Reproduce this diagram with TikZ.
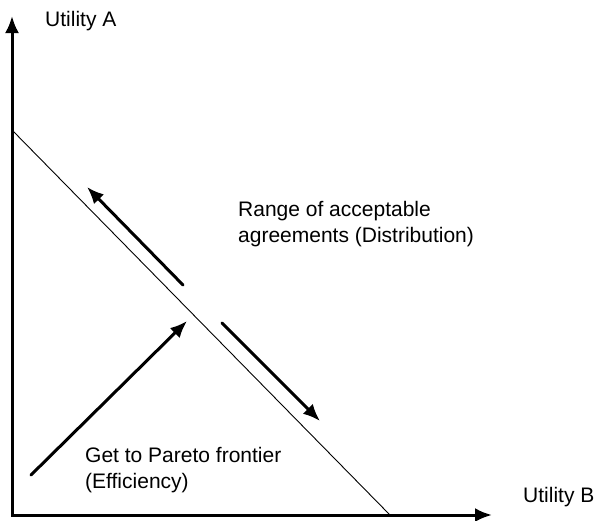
\documentclass[tikz,border=0pt]{standalone}
\usepackage{fontspec}
\setmainfont{Liberation Sans}
\usetikzlibrary{arrows.meta}

\begin{document}
\begin{tikzpicture}[x=1pt,y=-1pt,>={Latex[length=17pt,width=14pt]},
  every node/.style={font=\fontsize{21}{26.5}\selectfont,inner sep=0pt},
  axis/.style={line width=3pt,line join=miter},
  move/.style={line width=3pt,line cap=round,->}]
\useasboundingbox (0,0) rectangle (596,520);
\coordinate (O) at (12,515);
\coordinate (ya) at (12,16);
\coordinate (xb) at (492,515);
\coordinate (fa) at (12,130);
\coordinate (fb) at (390,515);
\draw[axis,<->] (ya) -- (O) -- (xb);
\draw[line width=0.9pt] (fa) -- (fb);
% moves along and towards the frontier
\coordinate (up1) at (183,285);
\coordinate (up2) at (87,187);
\coordinate (dn1) at (222,323);
\coordinate (dn2) at (320,421);
\coordinate (ef1) at (31,475);
\coordinate (ef2) at (187,321);
\draw[move] (up1) -- (up2);
\draw[move] (dn1) -- (dn2);
\draw[move] (ef1) -- (ef2);
\node[anchor=base west] (ua) at (45,26) {Utility A};
\node[anchor=base west] (ub) at (523,502) {Utility B};
\node[anchor=north west,align=left] (dist) at (238,201) {Range of acceptable\\agreements (Distribution)};
\node[anchor=north west,align=left] (eff) at (85,447) {Get to Pareto frontier\\(Efficiency)};
\end{tikzpicture}
\end{document}
